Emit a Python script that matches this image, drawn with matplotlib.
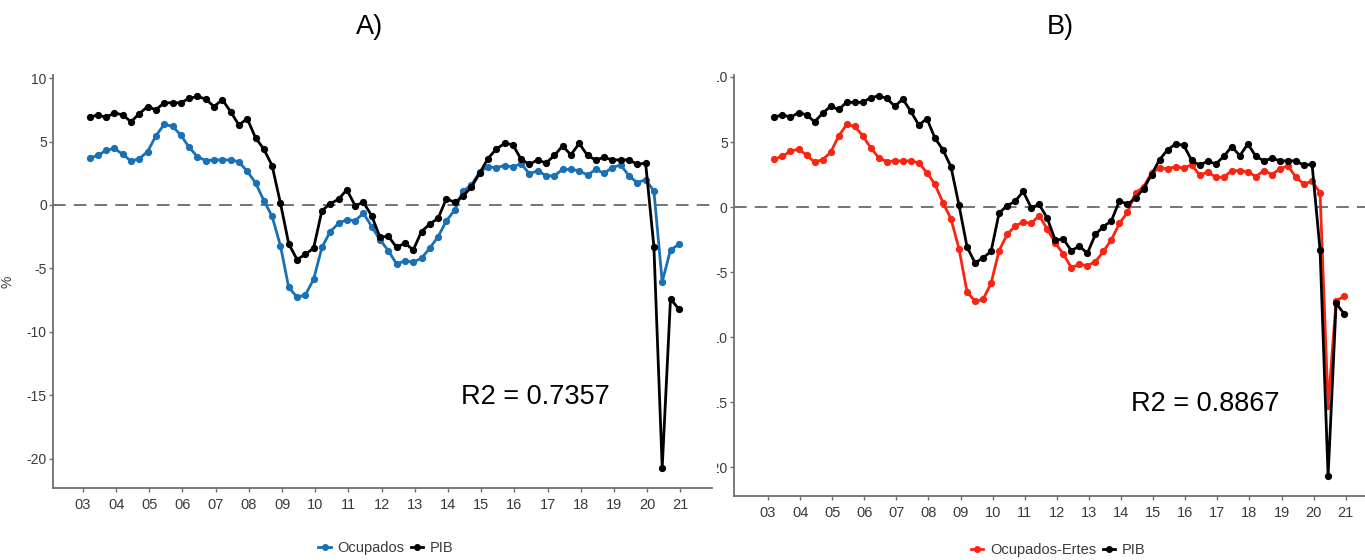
import numpy as np
import pandas as pd
import matplotlib
matplotlib.use("Agg")
import matplotlib.pyplot as plt
from matplotlib.lines import Line2D
from matplotlib.transforms import Bbox, TransformedBbox

plt.rcParams['font.family'] = ['Liberation Sans', 'DejaVu Sans']

# ---------------- data ----------------
quarters = pd.period_range('2003Q1', '2020Q4', freq='Q')

pib = [6.9, 7.1, 6.9, 7.25, 7.1, 6.55, 7.2, 7.75, 7.5, 8.05,
       8.05, 8.05, 8.4, 8.55, 8.35, 7.75, 8.3, 7.35, 6.3, 6.8,
       5.3, 4.4, 3.1, 0.15, -3.05, -4.3, -3.9, -3.4, -0.45, 0.1,
       0.45, 1.2, -0.05, 0.2, -0.85, -2.55, -2.45, -3.35, -3.0, -3.55,
       -2.1, -1.5, -1.05, 0.5, 0.2, 0.7, 1.4, 2.5, 3.65, 4.4,
       4.85, 4.75, 3.6, 3.2, 3.55, 3.3, 3.9, 4.65, 3.95, 4.85,
       3.9, 3.55, 3.75, 3.55, 3.55, 3.55, 3.2, 3.3, -3.3, -20.7,
       -7.4, -8.2]

ocupados = [3.7, 3.9, 4.3, 4.45, 4.0, 3.45, 3.65, 4.2, 5.45, 6.35,
            6.2, 5.5, 4.55, 3.8, 3.5, 3.55, 3.55, 3.55, 3.4, 2.65,
            1.75, 0.35, -0.9, -3.2, -6.5, -7.25, -7.1, -5.85, -3.35, -2.1,
            -1.45, -1.15, -1.25, -0.65, -1.7, -2.75, -3.6, -4.65, -4.4, -4.5,
            -4.2, -3.4, -2.5, -1.25, -0.4, 1.1, 1.55, 2.6, 3.0, 2.95,
            3.1, 3.0, 3.25, 2.45, 2.7, 2.3, 2.3, 2.8, 2.8, 2.7,
            2.35, 2.8, 2.5, 2.95, 3.15, 2.3, 1.75, 2.0, 1.1, -6.05,
            -3.55, -3.1]

ocupados_ertes = ocupados[:69] + [-15.3, -7.2, -6.85]

year_ticks = list(range(2003, 2022))
year_labels = [f"{y % 100:02d}" for y in year_ticks]
y_ticks = [10, 5, 0, -5, -10, -15, -20]
y_labels = ['10', '5', '0', '-5', '-10', '-15', '-20']

titles = ['A)', 'B)']
r2_texts = ['R2 = 0.7357', 'R2 = 0.8867']
legend_labels = [['Ocupados', 'PIB'], ['Ocupados-Ertes', 'PIB']]

# ---------------- styling ----------------
BLUE = '#1a70b5'
RED = '#fb2412'
BLACK = '#000000'
AXC = '#6e6e6e'
TXC = '#3a3a3a'

x = np.array([p.year + p.quarter / 4 - 0.05 for p in quarters])

W, H = 1365, 560
fig = plt.figure(figsize=(W / 100, H / 100), dpi=100)

def fx(px):
    return px / W

def fy(py):
    return 1 - py / H

ax1 = fig.add_axes([fx(53), fy(488), fx(712) - fx(53), fy(75) - fy(488)])
ax2 = fig.add_axes([fx(734), fy(496), 1 - fx(734), fy(75) - fy(496)])

specs = [
    (ax1, ocupados, BLUE, (2002.1, 2021.95), (-22.3, 10.24)),
    (ax2, ocupados_ertes, RED, (2001.94, 2021.6), (-22.2, 10.15)),
]

for i, (ax, ser, col, xl, yl) in enumerate(specs):
    ax.axhline(0, color='#6a6a6a', lw=1.3, ls=(0, (7, 4.5)), zorder=1)
    ax.plot(x, ser, color=col, lw=2.0, marker='o', ms=4.2, zorder=3)
    ax.plot(x, pib, color=BLACK, lw=2.0, marker='o', ms=4.2, zorder=4)
    ax.set_xlim(*xl)
    ax.set_ylim(*yl)
    ax.set_xticks(year_ticks, labels=year_labels)
    ax.set_yticks(y_ticks, labels=y_labels)
    for s in ['top', 'right']:
        ax.spines[s].set_visible(False)
    for s in ['left', 'bottom']:
        ax.spines[s].set_color(AXC)
        ax.spines[s].set_linewidth(1.3)
    ax.tick_params(axis='both', colors=AXC, length=3, width=1.0,
                   labelcolor=TXC, labelsize=10, pad=1.5)
    ax.tick_params(axis='x', labelsize=10.5, pad=4)
    ax.text(2016.62, -15.15, r2_texts[i], fontsize=19.5, color=BLACK,
            ha='center', va='center')

ax1.set_ylabel('%', fontsize=10, color=TXC)
ax1.yaxis.set_label_coords((15 - 53) / (712 - 53), 0.5)

fig.text(fx(370), fy(27), titles[0], fontsize=19.5, ha='center', va='center')
fig.text(fx(1060), fy(27), titles[1], fontsize=19.5, ha='center', va='center')

# legends
for cols, labels, cx, cy in [((BLUE, BLACK), legend_labels[0], 386, 548),
                             ((RED, BLACK), legend_labels[1], 1058, 550)]:
    handles = [Line2D([], [], color=c, lw=2.0, marker='o', ms=4) for c in cols]
    fig.legend(handles, labels, loc='center', bbox_to_anchor=(fx(cx), fy(cy)),
               ncol=2, frameon=False, fontsize=10.5, handlelength=0.85,
               handletextpad=0.45, columnspacing=0.45, borderaxespad=0,
               borderpad=0, labelcolor=TXC)

# right panel tick labels are cut off at the panel's left edge
fig.canvas.draw()
clip = TransformedBbox(Bbox([[fx(717), 0], [1, 1]]), fig.transFigure)
for t in ax2.yaxis.get_major_ticks():
    t.label1.set_clip_on(True)
    t.label1.set_clip_box(clip)

fig.savefig('out.png', dpi=100)
